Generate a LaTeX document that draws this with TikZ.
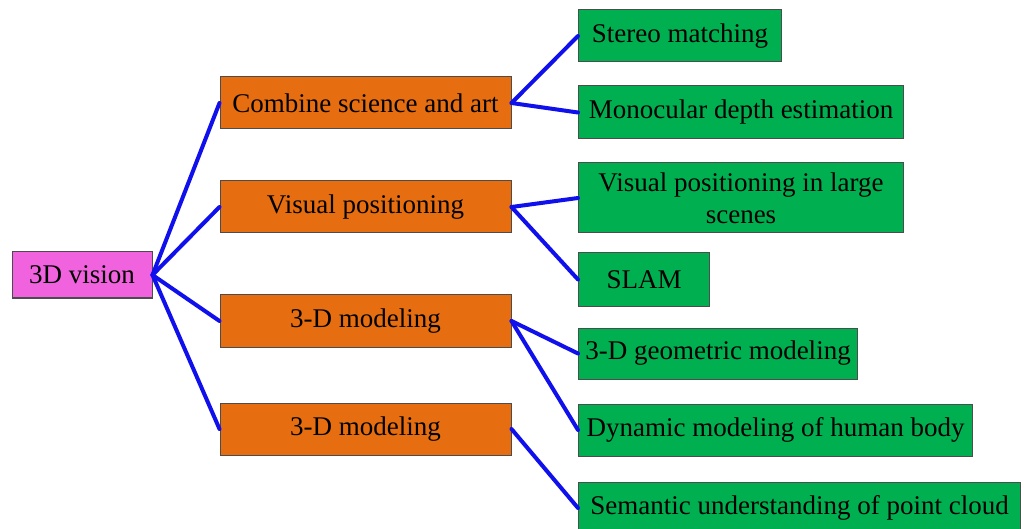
\documentclass[tikz,border=0pt]{standalone}
\usepackage{fontspec}
\setmainfont{Liberation Serif}
\usepackage{tikz}

\definecolor{rootpink}{RGB}{240,98,222}
\definecolor{midorange}{RGB}{230,110,16}
\definecolor{leafgreen}{RGB}{0,176,80}
\definecolor{linkblue}{RGB}{16,16,236}

\tikzset{
  box/.style={draw=black!70, line width=1pt, inner sep=0pt, minimum height=52, font=\fontsize{27}{32}\selectfont, align=center},
  rootbox/.style={box, fill=rootpink, minimum width=140, minimum height=46},
  midbox/.style={box, fill=midorange, minimum width=291},
  leafbox/.style={box, fill=leafgreen, anchor=west},
  link/.style={draw=linkblue, line width=4pt, line cap=round},
}

\begin{document}
\begin{tikzpicture}[x=1pt,y=-1pt]
\fill[white] (0,0) rectangle (1025,529);
\useasboundingbox (0,0) rectangle (1025,529);

\node[rootbox] (vision) at (82,275) {3D vision};

\node[midbox] (art) at (365.5,103) {Combine science and art};
\node[midbox] (position) at (365.5,207) {Visual positioning};
\node[midbox] (modelA) at (365.5,321) {3-D modeling};
\node[midbox] (modelB) at (365.5,429) {3-D modeling};

\node[leafbox, minimum width=203] (stereo) at (578,36) {Stereo matching};
\node[leafbox, minimum width=325, minimum height=53] (mono) at (578,112.5) {Monocular depth estimation};
\node[leafbox, minimum width=325, minimum height=70] (large) at (578,198) {Visual positioning in large\\scenes};
\node[leafbox, minimum width=131, minimum height=53] (slam) at (578,279.5) {SLAM};
\node[leafbox, minimum width=279, minimum height=51] (geom) at (578,353.5) {3-D geometric modeling};
\node[leafbox, minimum width=394] (human) at (578,430) {Dynamic modeling of human body};
\node[leafbox, minimum width=442] (cloud) at (578,508) {Semantic understanding of point cloud};

\draw[link] (vision.east) -- (art.west);
\draw[link] (vision.east) -- (position.west);
\draw[link] (vision.east) -- (modelA.west);
\draw[link] (vision.east) -- (modelB.west);

\draw[link] (art.east) -- (stereo.west);
\draw[link] (art.east) -- (mono.west);
\draw[link] (position.east) -- (large.west);
\draw[link] (position.east) -- (slam.west);
\draw[link] (modelA.east) -- (geom.west);
\draw[link] (modelA.east) -- (human.west);
\draw[link] (modelB.east) -- (cloud.west);
\end{tikzpicture}
\end{document}
